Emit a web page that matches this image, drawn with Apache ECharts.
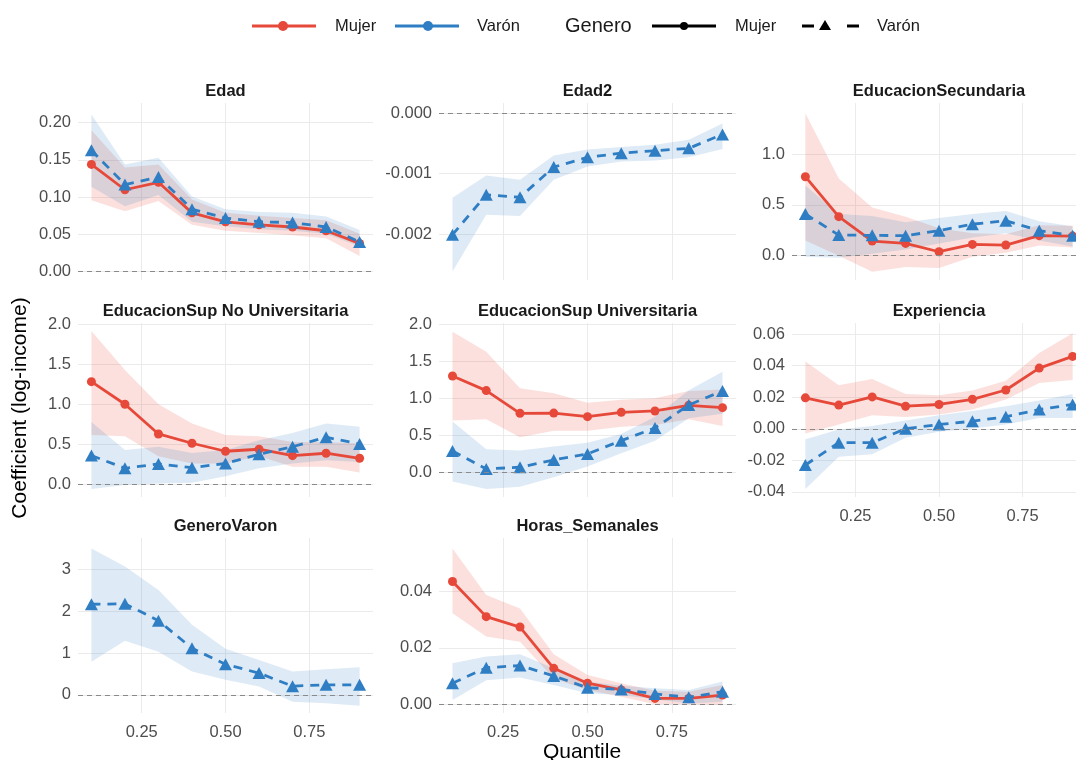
<!DOCTYPE html>
<html>
<head>
<meta charset="utf-8">
<script src="https://cdn.jsdelivr.net/npm/echarts@6/dist/echarts.min.js"></script>
<style>
  html, body { margin: 0; padding: 0; background: #ffffff; overflow: hidden; }
  /* the canvas is a little wider than the window: the right-hand column runs past the edge */
  #chart { width: 1092px; height: 760px; }
</style>
</head>
<body>
<div id="chart"></div>
<script>
// Quantile regression coefficients by gender, with confidence bands
const quantiles = [0.1, 0.2, 0.3, 0.4, 0.5, 0.6, 0.7, 0.8, 0.9];
const xTicks = [0.25, 0.5, 0.75];

// Edad
const edadMujer   = [0.144, 0.110, 0.120, 0.079, 0.067, 0.063, 0.060, 0.055, 0.038];
const edadMujerLo = [0.096, 0.081, 0.095, 0.063, 0.055, 0.052, 0.049, 0.045, 0.021];
const edadMujerHi = [0.190, 0.140, 0.144, 0.097, 0.079, 0.075, 0.072, 0.069, 0.051];
const edadVaron   = [0.163, 0.117, 0.127, 0.084, 0.072, 0.067, 0.066, 0.060, 0.040];
const edadVaronLo = [0.114, 0.088, 0.103, 0.067, 0.061, 0.057, 0.055, 0.051, 0.034];
const edadVaronHi = [0.211, 0.144, 0.153, 0.101, 0.084, 0.080, 0.079, 0.074, 0.056];
const edadTicks   = [0, 0.05, 0.10, 0.15, 0.20];

// Edad2
const edad2Varon   = [-0.00201, -0.00135, -0.00139, -0.00089, -0.00073, -0.00066, -0.00062, -0.00058, -0.00035];
const edad2VaronLo = [-0.00262, -0.00168, -0.00170, -0.00110, -0.00088, -0.00080, -0.00078, -0.00073, -0.00059];
const edad2VaronHi = [-0.00140, -0.00103, -0.00110, -0.00070, -0.00060, -0.00056, -0.00052, -0.00044, -0.00017];
const edad2Ticks   = [-0.002, -0.001, 0];

// EducacionSecundaria
const secMujer   = [0.777, 0.384, 0.144, 0.121, 0.039, 0.111, 0.105, 0.197, 0.193];
const secMujerLo = [0.150, 0.000, -0.157, -0.110, -0.120, -0.010, 0.030, 0.100, 0.080];
const secMujerHi = [1.400, 0.760, 0.475, 0.384, 0.270, 0.220, 0.210, 0.300, 0.295];
const secVaron   = [0.410, 0.203, 0.200, 0.197, 0.246, 0.310, 0.344, 0.246, 0.197];
const secVaronLo = [-0.010, -0.020, 0.020, 0.060, 0.120, 0.180, 0.220, 0.150, 0.090];
const secVaronHi = [0.690, 0.410, 0.390, 0.330, 0.370, 0.410, 0.440, 0.340, 0.290];
const secTicks   = [0, 0.5, 1.0];

// EducacionSup No Universitaria
const noUniMujer   = [1.283, 1.000, 0.629, 0.513, 0.413, 0.438, 0.358, 0.388, 0.325];
const noUniMujerLo = [0.617, 0.600, 0.350, 0.260, 0.260, 0.350, 0.220, 0.220, 0.146];
const noUniMujerHi = [1.917, 1.430, 1.000, 0.760, 0.617, 0.600, 0.530, 0.530, 0.510];
const noUniVaron   = [0.360, 0.200, 0.254, 0.208, 0.260, 0.375, 0.470, 0.588, 0.504];
const noUniVaronLo = [-0.060, -0.010, 0.010, 0.020, 0.100, 0.200, 0.260, 0.300, 0.280];
const noUniVaronHi = [0.780, 0.430, 0.470, 0.390, 0.430, 0.550, 0.640, 0.760, 0.720];
const noUniTicks   = [0, 0.5, 1.0, 1.5, 2.0];

// EducacionSup Universitaria
const uniMujer   = [1.302, 1.104, 0.797, 0.800, 0.752, 0.810, 0.829, 0.905, 0.874];
const uniMujerLo = [0.700, 0.716, 0.473, 0.563, 0.560, 0.617, 0.640, 0.716, 0.626];
const uniMujerHi = [1.900, 1.630, 1.135, 1.070, 0.940, 0.980, 1.000, 1.100, 1.120];
const uniVaron   = [0.288, 0.045, 0.068, 0.167, 0.248, 0.428, 0.600, 0.910, 1.100];
const uniVaronLo = [-0.126, -0.225, -0.194, -0.068, 0.077, 0.257, 0.428, 0.730, 0.790];
const uniVaronHi = [0.685, 0.310, 0.293, 0.347, 0.400, 0.518, 0.752, 1.110, 1.360];
const uniTicks   = [0, 0.5, 1.0, 1.5, 2.0];

// Experiencia
const expMujer   = [0.0196, 0.0150, 0.0202, 0.0143, 0.0154, 0.0187, 0.0246, 0.0385, 0.0459];
const expMujerLo = [-0.0030, 0.0027, 0.0086, 0.0074, 0.0090, 0.0122, 0.0185, 0.0290, 0.0310];
const expMujerHi = [0.0427, 0.0276, 0.0316, 0.0221, 0.0213, 0.0242, 0.0305, 0.0480, 0.0606];
const expVaron   = [-0.0230, -0.0088, -0.0088, 0.0000, 0.0027, 0.0048, 0.0076, 0.0122, 0.0154];
const expVaronLo = [-0.0383, -0.0177, -0.0162, -0.0057, -0.0019, 0.0002, 0.0027, 0.0069, 0.0069];
const expVaronHi = [-0.0067, -0.0004, 0.0017, 0.0053, 0.0086, 0.0112, 0.0143, 0.0179, 0.0221];
const expTicks   = [-0.04, -0.02, 0, 0.02, 0.04, 0.06];

// GeneroVaron
const genVaron   = [2.16, 2.17, 1.77, 1.11, 0.73, 0.52, 0.21, 0.24, 0.24];
const genVaronLo = [0.79, 1.29, 1.03, 0.56, 0.36, 0.20, -0.16, -0.20, -0.26];
const genVaronHi = [3.49, 3.06, 2.50, 1.67, 1.10, 0.83, 0.56, 0.61, 0.66];
const genTicks   = [0, 1, 2, 3];

// Horas_Semanales
const horasMujer   = [0.0436, 0.0311, 0.0274, 0.0127, 0.0074, 0.0050, 0.0020, 0.0020, 0.0032];
const horasMujerLo = [0.0323, 0.0240, 0.0222, 0.0091, 0.0050, 0.0026, -0.0001, -0.0001, -0.0004];
const horasMujerHi = [0.0554, 0.0388, 0.0340, 0.0177, 0.0103, 0.0074, 0.0047, 0.0044, 0.0068];
const horasVaron   = [0.0074, 0.0129, 0.0137, 0.0100, 0.0058, 0.0052, 0.0036, 0.0024, 0.0044];
const horasVaronLo = [0.0014, 0.0085, 0.0094, 0.0068, 0.0038, 0.0032, 0.0017, 0.0002, 0.0008];
const horasVaronHi = [0.0145, 0.0169, 0.0177, 0.0127, 0.0080, 0.0065, 0.0056, 0.0050, 0.0080];
const horasTicks   = [0, 0.02, 0.04];

const panels = [
  { title: 'Edad', mujer: [edadMujer, edadMujerLo, edadMujerHi], varon: [edadVaron, edadVaronLo, edadVaronHi],
    ticks: edadTicks, range: [-0.0111, 0.2264], digits: 2 },
  { title: 'Edad2', mujer: null, varon: [edad2Varon, edad2VaronLo, edad2VaronHi],
    ticks: edad2Ticks, range: [-0.00276, 0.00017], digits: 3 },
  { title: 'EducacionSecundaria', mujer: [secMujer, secMujerLo, secMujerHi], varon: [secVaron, secVaronLo, secVaronHi],
    ticks: secTicks, range: [-0.239, 1.502], digits: 1 },
  { title: 'EducacionSup No Universitaria', mujer: [noUniMujer, noUniMujerLo, noUniMujerHi], varon: [noUniVaron, noUniVaronLo, noUniVaronHi],
    ticks: noUniTicks, range: [-0.159, 2.016], digits: 1 },
  { title: 'EducacionSup Universitaria', mujer: [uniMujer, uniMujerLo, uniMujerHi], varon: [uniVaron, uniVaronLo, uniVaronHi],
    ticks: uniTicks, range: [-0.334, 2.018], digits: 1 },
  { title: 'Experiencia', mujer: [expMujer, expMujerLo, expMujerHi], varon: [expVaron, expVaronLo, expVaronHi],
    ticks: expTicks, range: [-0.0433, 0.0671], digits: 2 },
  { title: 'GeneroVaron', mujer: null, varon: [genVaron, genVaronLo, genVaronHi],
    ticks: genTicks, range: [-0.43, 3.738], digits: 0 },
  { title: 'Horas_Semanales', mujer: [horasMujer, horasMujerLo, horasMujerHi], varon: [horasVaron, horasVaronLo, horasVaronHi],
    ticks: horasTicks, range: [-0.0032, 0.0591], digits: 2 }
];

// facet layout
const colLeft = [78, 439, 792];
const colWidth = [295, 297, 294];
const rowTop = [103, 323, 538];
const rowHeight = [177, 174, 175];
const showXLabels = [false, false, false, false, false, true, true, true];

const FONT = '"Liberation Sans", Arial, Helvetica, sans-serif';
const RED = '#E6493A';
const BLUE = '#2F7EC4';
const RED_BAND = 'rgba(236, 88, 72, 0.19)';
const BLUE_BAND = 'rgba(60, 130, 196, 0.17)';
const GRID_COLOR = '#EBEBEB';
const TICK_COLOR = '#4D4D4D';

const grids = [], xAxes = [], yAxes = [], series = [], graphics = [];

function pairs(vals) { return quantiles.map((q, k) => [q, vals[k]]); }

// ribbon between lower and upper bounds, drawn as one polygon through the axis scales
function band(gi, lo, hi, color) {
  return {
    type: 'custom', xAxisIndex: gi, yAxisIndex: gi, silent: true, z: 1,
    data: quantiles.map((q, k) => [q, lo[k], hi[k]]),
    encode: { x: 0, y: [1, 2] },
    renderItem: function (params, api) {
      if (params.dataIndex !== 0) return null;
      const upper = quantiles.map((q, k) => api.coord([q, hi[k]]));
      const lower = quantiles.map((q, k) => api.coord([q, lo[k]])).reverse();
      return {
        type: 'polygon',
        shape: { points: upper.concat(lower) },
        style: { fill: color, stroke: null }
      };
    }
  };
}

panels.forEach((p, i) => {
  const col = i % 3, row = Math.floor(i / 3);
  const left = colLeft[col], w = colWidth[col], top = rowTop[row], h = rowHeight[row];
  grids.push({ left: left, top: top, width: w, height: h, containLabel: false });

  xAxes.push({
    type: 'value', gridIndex: i, min: 0.06, max: 0.94,
    axisLine: { show: false },
    axisTick: { show: false, customValues: xTicks },
    axisLabel: { show: showXLabels[i], customValues: xTicks, margin: 11,
      color: TICK_COLOR, fontSize: 16.5, fontFamily: FONT, formatter: v => v.toFixed(2) },
    splitLine: { show: true, lineStyle: { color: GRID_COLOR, width: 1 } }
  });
  yAxes.push({
    type: 'value', gridIndex: i, min: p.range[0], max: p.range[1],
    axisLine: { show: false },
    axisTick: { show: false, customValues: p.ticks },
    axisLabel: { show: true, customValues: p.ticks, margin: 7,
      color: TICK_COLOR, fontSize: 16.5, fontFamily: FONT, formatter: v => v.toFixed(p.digits) },
    splitLine: { show: true, lineStyle: { color: GRID_COLOR, width: 1 } }
  });

  // confidence bands
  if (p.mujer) series.push(band(i, p.mujer[1], p.mujer[2], RED_BAND));
  series.push(band(i, p.varon[1], p.varon[2], BLUE_BAND));

  // zero reference line
  series.push({
    type: 'line', xAxisIndex: i, yAxisIndex: i, data: [], z: 2, silent: true,
    markLine: { silent: true, symbol: 'none', label: { show: false }, animation: false,
      lineStyle: { color: '#8A8A8A', type: [5, 4], width: 1.1 }, data: [{ yAxis: 0 }] }
  });

  // coefficient lines
  if (p.mujer) {
    series.push({
      type: 'line', name: 'Mujer', xAxisIndex: i, yAxisIndex: i, data: pairs(p.mujer[0]), z: 3,
      symbol: 'circle', symbolSize: 9, showAllSymbol: true,
      itemStyle: { color: RED }, lineStyle: { color: RED, width: 2.8 }
    });
  }
  series.push({
    type: 'line', name: 'Varón', xAxisIndex: i, yAxisIndex: i, data: pairs(p.varon[0]), z: 4,
    symbol: 'triangle', symbolSize: [13, 12], showAllSymbol: true,
    itemStyle: { color: BLUE }, lineStyle: { color: BLUE, width: 2.8, type: [9, 7] }
  });

  // facet strip title
  graphics.push({
    type: 'text', x: left + w / 2, y: top - 12,
    style: { text: p.title, fill: '#1A1A1A', font: 'bold 16.5px ' + FONT, align: 'center', verticalAlign: 'middle' }
  });
});

// axis titles
graphics.push({
  type: 'text', x: 582, y: 752,
  style: { text: 'Quantile', fill: '#000000', font: '21px ' + FONT, align: 'center', verticalAlign: 'middle' }
});
graphics.push({
  type: 'text', x: 20, y: 408, rotation: Math.PI / 2,
  style: { text: 'Coefficient (log-income)', fill: '#000000', font: '21px ' + FONT, align: 'center', verticalAlign: 'middle' }
});

// legends: colour key and line-type key
const LY = 26;
function legendText(x, text, size) {
  return { type: 'text', x: x, y: LY, style: { text: text, fill: '#1A1A1A', font: size + 'px ' + FONT, align: 'left', verticalAlign: 'middle' } };
}
graphics.push(
  { type: 'line', shape: { x1: 252, y1: LY, x2: 316, y2: LY }, style: { stroke: RED, lineWidth: 3 } },
  { type: 'circle', shape: { cx: 283, cy: LY, r: 5 }, style: { fill: RED } },
  legendText(335, 'Mujer', 16.5),
  { type: 'line', shape: { x1: 395, y1: LY, x2: 459, y2: LY }, style: { stroke: BLUE, lineWidth: 3 } },
  { type: 'circle', shape: { cx: 428, cy: LY, r: 5 }, style: { fill: BLUE } },
  legendText(477, 'Varón', 16.5),
  legendText(565, 'Genero', 20),
  { type: 'line', shape: { x1: 652, y1: LY, x2: 716, y2: LY }, style: { stroke: '#000', lineWidth: 3 } },
  { type: 'circle', shape: { cx: 684, cy: LY, r: 4 }, style: { fill: '#000' } },
  legendText(735, 'Mujer', 16.5),
  { type: 'line', shape: { x1: 802, y1: LY, x2: 814, y2: LY }, style: { stroke: '#000', lineWidth: 3 } },
  { type: 'polygon', shape: { points: [[825, LY - 6], [831, LY + 4], [819, LY + 4]] }, style: { fill: '#000' } },
  { type: 'line', shape: { x1: 847, y1: LY, x2: 859, y2: LY }, style: { stroke: '#000', lineWidth: 3 } },
  legendText(877, 'Varón', 16.5)
);

const chart = echarts.init(document.getElementById('chart'), null, { renderer: 'canvas' });
chart.setOption({
  animation: false,
  backgroundColor: '#ffffff',
  textStyle: { fontFamily: FONT },
  grid: grids,
  xAxis: xAxes,
  yAxis: yAxes,
  series: series,
  graphic: graphics
});
</script>
</body>
</html>
